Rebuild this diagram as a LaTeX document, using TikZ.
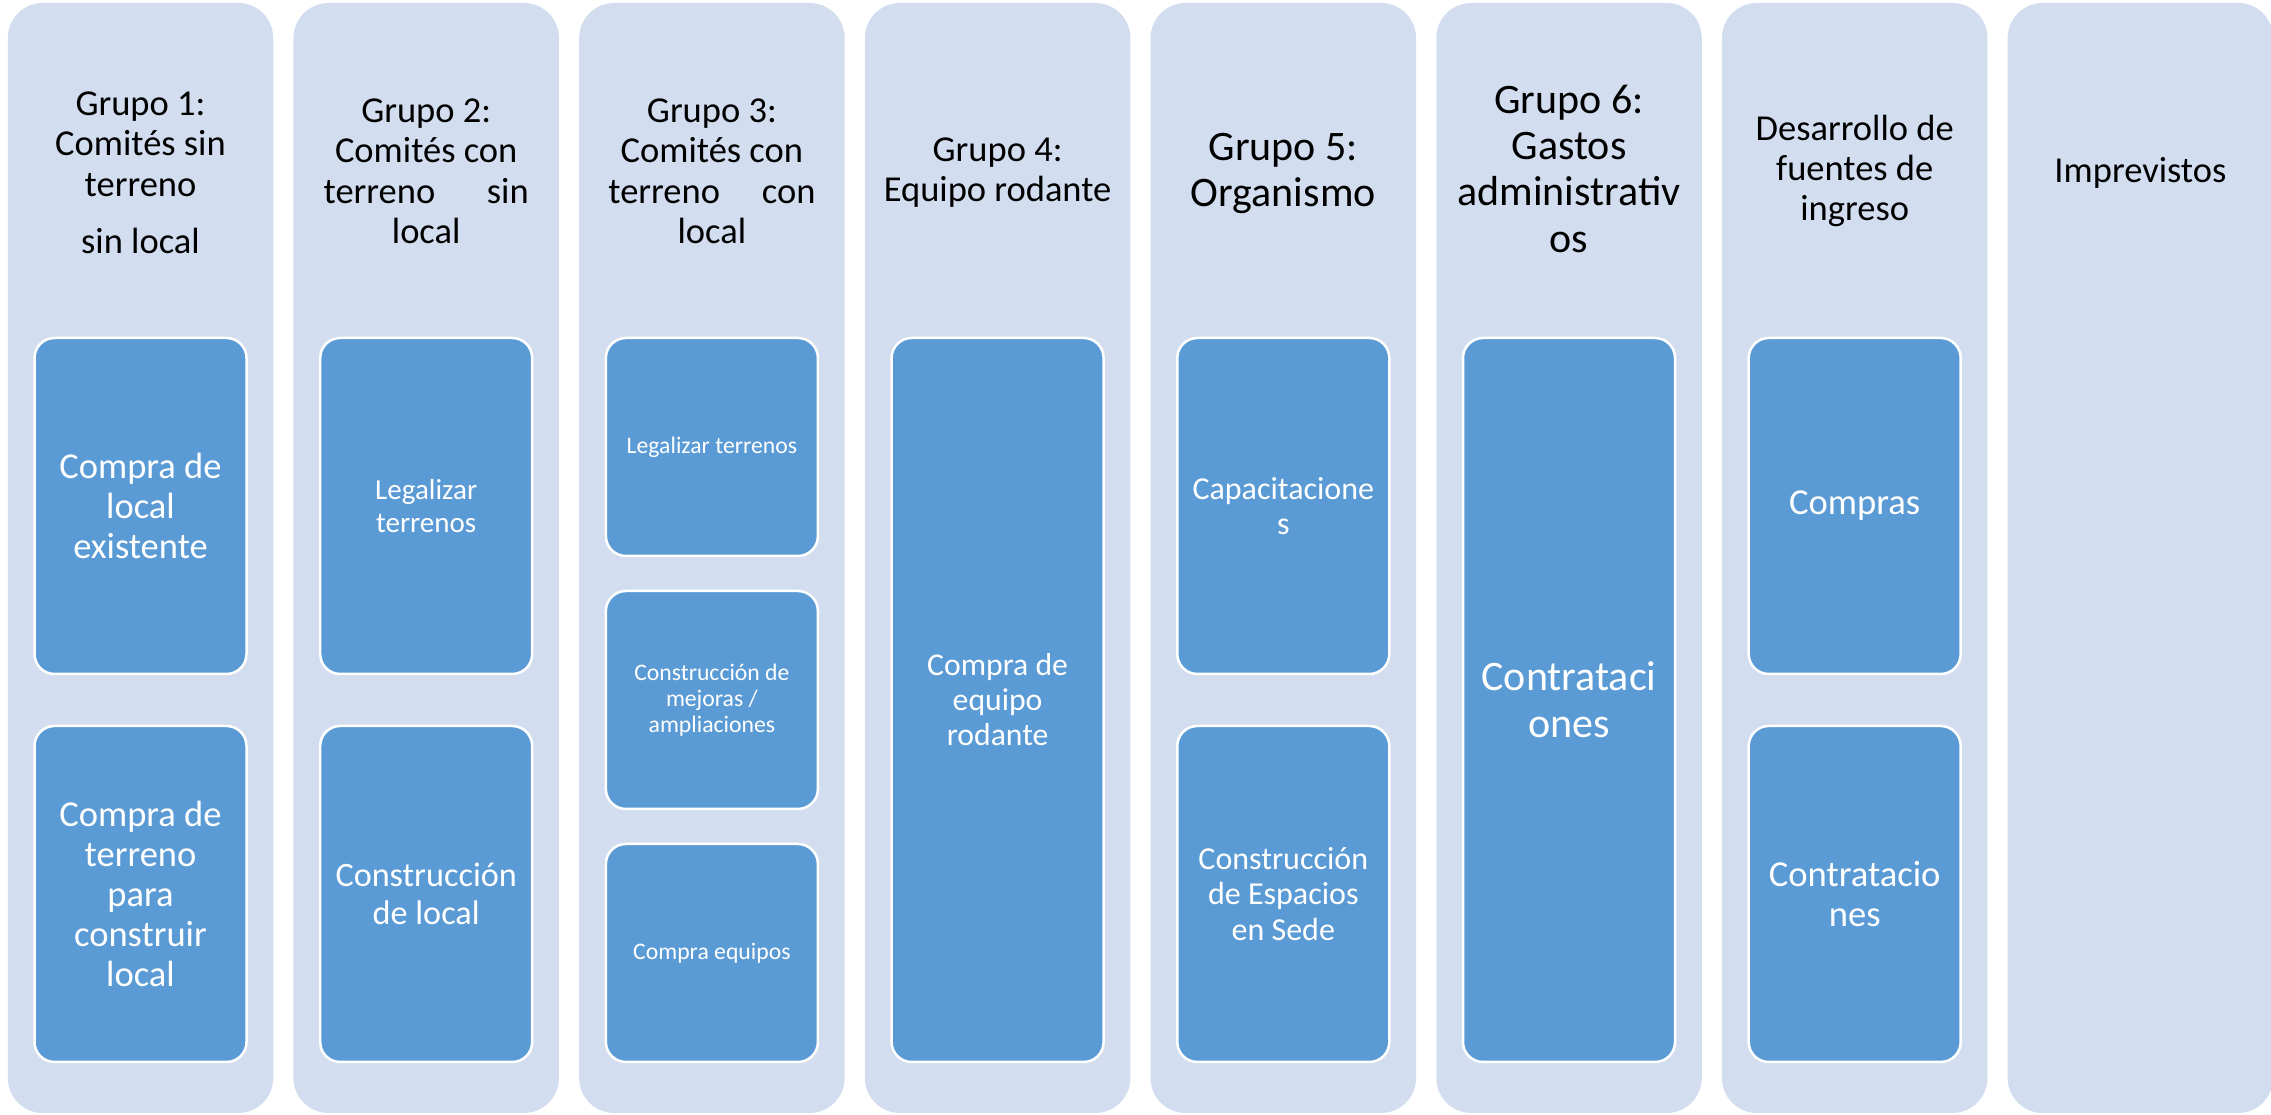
\documentclass[tikz,border=0pt]{standalone}
\usepackage{fontspec}
\setmainfont{Carlito}
\usepackage{xcolor}
\usepackage{tikz}
\usetikzlibrary{shapes,positioning}
\definecolor{laneblue}{HTML}{D2DEEF}
\definecolor{taskblue}{HTML}{5B9BD5}
\newcommand{\headfont}{\fontsize{36.5}{40.2}\selectfont}
\newcommand{\bigheadfont}{\fontsize{42}{46.3}\selectfont}
\tikzstyle{lane} = [rectangle, fill=laneblue, rounded corners=35pt,
    minimum width=265.5pt, minimum height=1110pt, inner sep=0pt, outer sep=0pt]
\tikzstyle{task} = [rectangle, draw=white, line width=2.5pt, fill=taskblue,
    rounded corners=20pt, minimum width=212pt, text=white, align=center,
    inner sep=0pt, outer sep=0pt]
\tikzstyle{head} = [align=center, inner sep=0pt, outer sep=0pt, text=black]
\tikzset{
    every node/.style={font=\headfont}
}

\begin{document}
\begin{tikzpicture}[x=1pt,y=1pt]
            \useasboundingbox (0,0) rectangle (2271,1115);
            % Lanes
            \node [lane] (g1) at (140.5,557) {};
            \node [lane] (g2) [right=20.2pt of g1] {};
            \node [lane] (g3) [right=20.2pt of g2] {};
            \node [lane] (g4) [right=20.2pt of g3] {};
            \node [lane] (g5) [right=20.2pt of g4] {};
            \node [lane] (g6) [right=20.2pt of g5] {};
            \node [lane] (g7) [right=20.2pt of g6] {};
            \node [lane] (g8) [right=20.2pt of g7] {};

            % Headings
            \node [head] (h1) [below=89pt of g1.north] {Grupo 1:\\Comités sin\\terreno\\[17pt]sin local};
            \node [head] (h2) [below=96pt of g2.north] {Grupo 2:\\Comités con\\\makebox[205pt]{terreno\hfill sin}\\local};
            \node [head] (h3) [below=96pt of g3.north] {Grupo 3:\\Comités con\\\makebox[207pt]{terreno\hfill con}\\local};
            \node [head] (h4) [below=135pt of g4.north] {Grupo 4:\\Equipo rodante};
            \node [head, font=\bigheadfont] (h5) [below=130pt of g5.north] {Grupo 5:\\Organismo};
            \node [head, font=\bigheadfont] (h6) [below=82pt of g6.north] {Grupo 6:\\Gastos\\administrativ\\os};
            \node [head] (h7) [below=112pt of g7.north] {Desarrollo de\\fuentes de\\ingreso};
            \node [head] (h8) [below=154pt of g8.north] {Imprevistos};

            % Grupo 1
            \node [task, minimum height=336pt] (g1a) [below=335pt of g1.north] {Compra de\\local\\existente};
            \node [task, minimum height=336pt] (g1b) [below=52pt of g1a] {Compra de\\terreno\\para\\construir\\local};

            % Grupo 2
            \node [task, minimum height=336pt, font=\fontsize{29}{32.4}\selectfont] (g2a) [below=335pt of g2.north] {Legalizar\\terrenos};
            \node [task, minimum height=336pt, font=\fontsize{34.2}{37.6}\selectfont] (g2b) [below=52pt of g2a] {Construcción\\de local};

            % Grupo 3
            \node [task, minimum height=218pt, font=\fontsize{23.7}{26.1}\selectfont] (g3a) [below=335pt of g3.north] {Legalizar terrenos};
            \node [task, minimum height=218pt, font=\fontsize{23.7}{26.1}\selectfont] (g3b) [below=35pt of g3a] {Construcción de\\mejoras /\\ampliaciones};
            \node [task, minimum height=218pt, font=\fontsize{23.7}{26.1}\selectfont] (g3c) [below=35pt of g3b] {Compra equipos};

            % Grupo 4
            \node [task, minimum height=724pt, font=\fontsize{31.7}{34.9}\selectfont] (g4a) [below=335pt of g4.north] {Compra de\\equipo\\rodante};

            % Grupo 5
            \node [task, minimum height=336pt, font=\fontsize{32}{35.2}\selectfont] (g5a) [below=335pt of g5.north] {Capacitacione\\s};
            \node [task, minimum height=336pt, font=\fontsize{32}{35.2}\selectfont] (g5b) [below=52pt of g5a] {Construcción\\de Espacios\\en Sede};

            % Grupo 6
            \node [task, minimum height=724pt, font=\fontsize{42}{47.4}\selectfont] (g6a) [below=335pt of g6.north] {Contrataci\\ones};

            % Fuentes de ingreso
            \node [task, minimum height=336pt, font=\fontsize{36.6}{40.3}\selectfont] (g7a) [below=335pt of g7.north] {Compras};
            \node [task, minimum height=336pt, font=\fontsize{36.6}{40.3}\selectfont] (g7b) [below=52pt of g7a] {Contratacio\\nes};
        \end{tikzpicture}
\end{document}
